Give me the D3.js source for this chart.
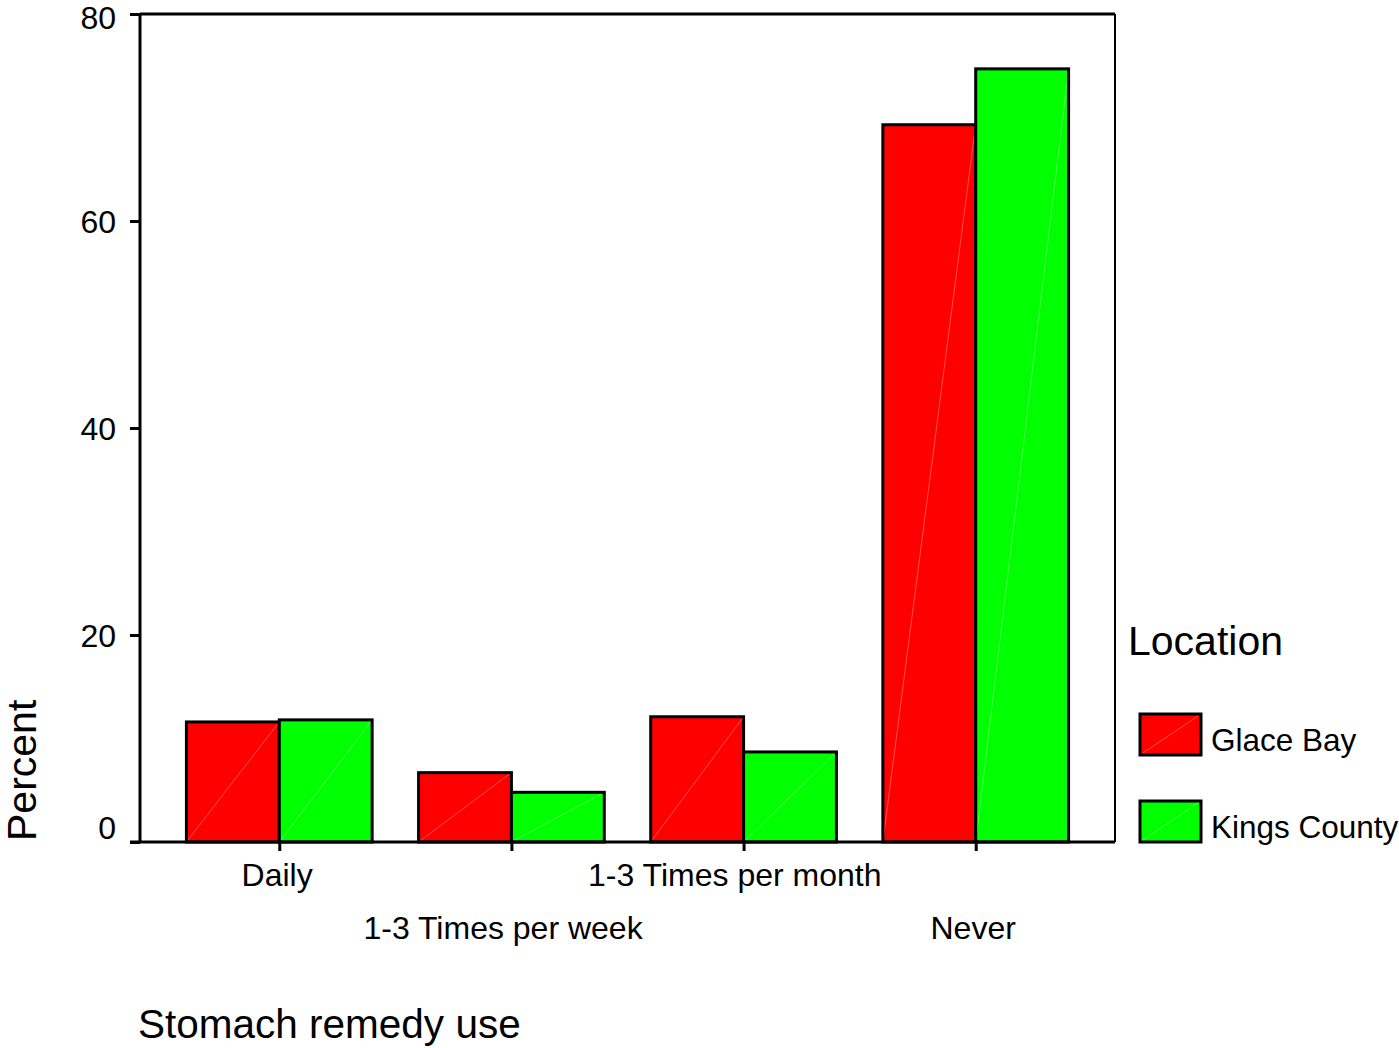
<!DOCTYPE html>
<html><head><meta charset="utf-8">
<script src="https://cdn.jsdelivr.net/npm/d3@7"></script>
<style>
html,body{margin:0;padding:0;background:#fff;}
text{font-family:"Liberation Sans",Arial,sans-serif;fill:#000;}
</style></head>
<body>
<svg id="c" width="1399" height="1048"></svg>
<script>
const categories = ["Daily","1-3 Times per week","1-3 Times per month","Never"];
const seriesNames = ["Glace Bay","Kings County"];
const glaceBay = [11.6, 6.7, 12.1, 69.3];
const kingsCounty = [11.8, 4.8, 8.7, 74.7];
const yTicks = [0,20,40,60,80];
const colors = ["#ff0000","#00ff00"];

const svg = d3.select("#c");
const L = 140, R = 1115, T = 14, B = 842;
const x = d3.scalePoint().domain(categories).range([L,R]).padding(0.6);
const y = d3.scaleLinear().domain([0,80]).range([B,T]);
const bw = x.step()*0.4;
const series = [glaceBay, kingsCounty];

// bars
series.forEach((vals,si)=>{
  const g = svg.append("g");
  categories.forEach((c,i)=>{
    const x0 = si===0 ? x(c)-bw : x(c);
    const y0 = y(vals[i]);
    g.append("rect").attr("x",x0).attr("y",y0).attr("width",bw).attr("height",B-y0)
      .attr("fill",colors[si]).attr("stroke","none");
    g.append("line").attr("x1",x0).attr("y1",B).attr("x2",x0+bw).attr("y2",y0)
      .attr("stroke","#fff").attr("stroke-opacity",0.3).attr("stroke-width",1);
    g.append("rect").attr("x",x0).attr("y",y0).attr("width",bw).attr("height",B-y0)
      .attr("fill","none").attr("stroke","#000").attr("stroke-width",3);
  });
});

// frame
svg.append("line").attr("x1",L).attr("x2",R).attr("y1",T).attr("y2",T).attr("stroke","#000").attr("stroke-width",3);
svg.append("line").attr("x1",R).attr("x2",R).attr("y1",T).attr("y2",B).attr("stroke","#000").attr("stroke-width",2);
svg.append("line").attr("x1",L).attr("x2",L).attr("y1",T).attr("y2",B).attr("stroke","#000").attr("stroke-width",3);
svg.append("line").attr("x1",L-10).attr("x2",R).attr("y1",B).attr("y2",B).attr("stroke","#000").attr("stroke-width",3);

// y axis
const ya = svg.append("g").attr("transform",`translate(${L},0)`)
  .call(d3.axisLeft(y).tickValues(yTicks).tickSize(10).tickPadding(14).tickFormat(d3.format("d")));
ya.select(".domain").remove();
ya.selectAll(".tick line").attr("stroke","#000").attr("stroke-width",3);
ya.selectAll(".tick text").attr("font-size",32).attr("fill","#000")
  .attr("font-family","'Liberation Sans',Arial,sans-serif")
  .attr("dy",(d)=> d===0 ? "-0.1em" : (d===80 ? "0.45em" : "0.35em"));

// x axis ticks
const xa = svg.append("g").attr("transform",`translate(0,${B})`)
  .call(d3.axisBottom(x).tickSize(9).tickFormat(""));
xa.select(".domain").remove();
xa.selectAll(".tick line").attr("stroke","#000").attr("stroke-width",3);
categories.forEach((c,i)=>{
  const t = svg.append("text").attr("x",x(c)).attr("y", i%2===0 ? 886 : 939)
    .attr("text-anchor","middle").attr("font-size",32).text(c);
  const w = t.node().getComputedTextLength();
  t.attr("dx", -0.03*w);
});

// axis titles
svg.append("text").attr("x",138).attr("y",1038).attr("font-size",40.5).text("Stomach remedy use");
svg.append("text").attr("transform","translate(36,841) rotate(-90)").attr("font-size",41).text("Percent");

// legend
svg.append("text").attr("x",1128).attr("y",655).attr("font-size",41).text("Location");
const legY = [714, 801];
seriesNames.forEach((n,i)=>{
  const g = svg.append("g");
  g.append("rect").attr("x",1140).attr("y",legY[i]).attr("width",61).attr("height",41).attr("fill",colors[i]);
  g.append("line").attr("x1",1140).attr("y1",legY[i]+41).attr("x2",1201).attr("y2",legY[i])
    .attr("stroke","#fff").attr("stroke-opacity",0.3).attr("stroke-width",1);
  g.append("rect").attr("x",1140).attr("y",legY[i]).attr("width",61).attr("height",41).attr("fill","none")
    .attr("stroke","#000").attr("stroke-width",3);
  g.append("text").attr("x",1211).attr("y",legY[i]+37).attr("font-size",31.5).text(n);
});
</script>
</body></html>
